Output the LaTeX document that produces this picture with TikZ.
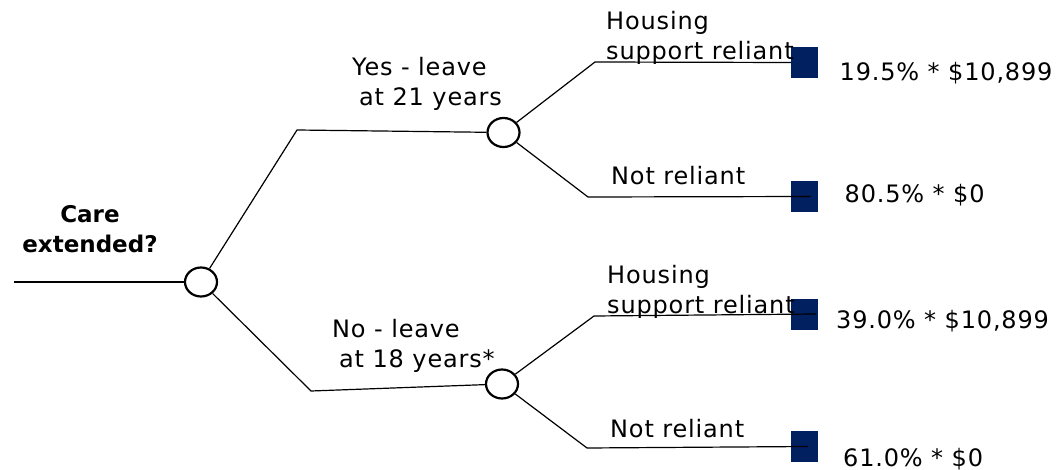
\documentclass[tikz,border=0pt]{standalone}
\usepackage{fontspec}
\setmainfont{DejaVu Sans}
\newfontfamily\wide[LetterSpace=3.5]{DejaVu Sans}
\usetikzlibrary{shapes.geometric}
\definecolor{navy}{RGB}{0,32,96}
\tikzset{
  chance/.style={ellipse, draw, line width=2.2pt, fill=white, minimum width=32pt, minimum height=29pt, inner sep=0pt},
  term/.style={rectangle, fill=navy, minimum width=27pt, minimum height=31pt, inner sep=0pt},
  branch/.style={line width=1.2pt},
  lbl/.style={font=\wide\fontsize{24}{30}\selectfont, inner sep=0pt, anchor=base west},
  mlbl/.style={font=\wide\fontsize{24}{30}\selectfont, inner sep=0pt, align=left, anchor=north west},
  qlbl/.style={font=\fontsize{23}{30}\selectfont\bfseries, inner sep=0pt, align=center, anchor=north},
}
\begin{document}
\begin{tikzpicture}[x=1pt,y=-1pt]
\useasboundingbox (0,0) rectangle (1057,470);
% decision / chance nodes
\node[chance] (c0) at (201,282) {};
\node[chance] (c1) at (503.5,132.5) {};
\node[chance] (c2) at (502,384) {};
% terminal nodes
\node[term] (t1) at (804.5,62.5) {};
\node[term] (t2) at (804.5,196.5) {};
\node[term] (t3) at (804.5,314) {};
\node[term] (t4) at (804.5,446.5) {};
% bend points
\coordinate (s) at (14,282);
\coordinate (k1) at (297,130);
\coordinate (k2) at (311,391);
\coordinate (k3) at (595,62);
\coordinate (k4) at (588,197);
\coordinate (k5) at (594,316);
\coordinate (k6) at (587,448);
% connectors
\draw[branch] (s) -- (c0);
\draw[branch] (c0) -- (k1) -- (c1);
\draw[branch] (c0) -- (k2) -- (c2);
\draw[branch] (c1) -- (k3) -- (t1.west);
\draw[branch] (c1) -- (k4) -- ([xshift=6pt]t2.center);
\draw[branch] (c2) -- (k5) -- ([xshift=11.5pt]t3.center);
\draw[branch] (c2) -- (k6) -- ([xshift=3.5pt]t4.center);
% labels
\node[qlbl] (q) at (90,205.5) {Care\\extended?};
\node[mlbl] (l1) at (352,57) {Yes - leave\\\hspace*{7pt}at 21 years};
\node[mlbl] (l2) at (332,319) {No - leave\\\hspace*{7pt}at 18 years*};
\node[mlbl] (l3) at (606,11) {Housing\\support reliant};
\node[lbl] (l4) at (611,185) {Not reliant};
\node[mlbl] (l5) at (607,265) {Housing\\support reliant};
\node[lbl] (l6) at (610,437) {Not reliant};
% payoffs
\node[lbl] (p1) at (839.5,81) {19.5\% * \$10,899};
\node[lbl] (p2) at (844.5,203) {80.5\% * \$0};
\node[lbl] (p3) at (836,328) {39.0\% * \$10,899};
\node[lbl] (p4) at (843,466) {61.0\% * \$0};
\end{tikzpicture}
\end{document}
